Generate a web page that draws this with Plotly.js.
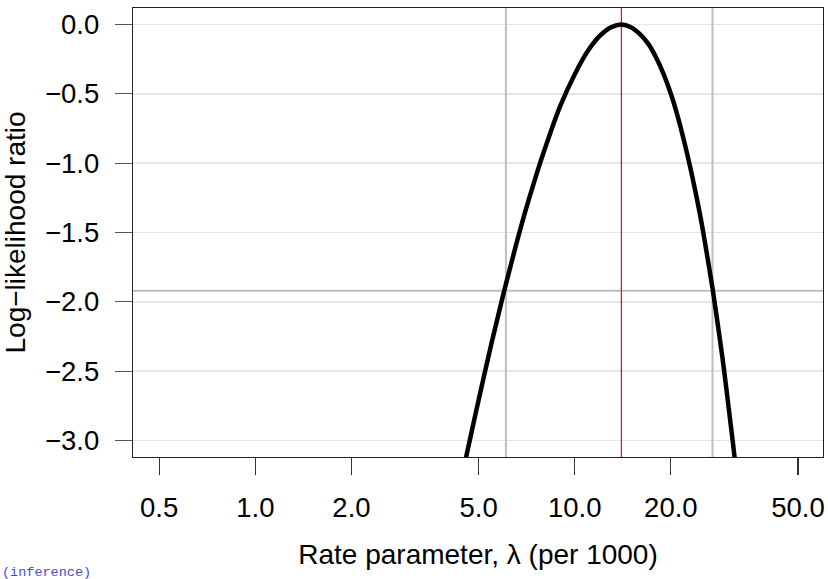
<!DOCTYPE html>
<html>
<head>
<meta charset="utf-8">
<script src="https://cdn.plot.ly/plotly-3.0.1.min.js"></script>
<style>body{margin:0;padding:0;background:#fff}#chart{width:828px;height:579px}</style>
</head>
<body>
<div id="chart"></div>
<script>
// Rate parameter lambda (per 1000) and log-likelihood ratio
const lambda = [4.2, 4.4, 4.6, 5.0, 5.5, 6.0, 6.5, 7.0, 7.5, 8.0, 9.0, 10.0, 11.0, 12.0, 13.0, 14.0, 15.0, 16.0, 17.0, 18.0, 19.0, 20.0, 21.0, 22.0, 23.0, 24.0, 25.0, 26.0, 27.0, 28.0, 29.0, 30.0, 31.0, 32.0, 33.0];
const llr    = [-3.53, -3.30, -3.09, -2.71, -2.29, -1.93, -1.62, -1.35, -1.12, -0.92, -0.59, -0.36, -0.19, -0.08, -0.02, 0.00, -0.02, -0.07, -0.14, -0.24, -0.36, -0.50, -0.66, -0.84, -1.03, -1.23, -1.44, -1.67, -1.90, -2.15, -2.40, -2.67, -2.94, -3.21, -3.50];
const mle = 14.0;
const ciBounds = [6.09, 27.0];
const cutoff = -1.92;
const xTickVals = [0.5, 1, 2, 5, 10, 20, 50];
const xTickText = ["0.5", "1.0", "2.0", "5.0", "10.0", "20.0", "50.0"];
const yTickVals = [0, -0.5, -1, -1.5, -2, -2.5, -3];
const yTickText = ["0.0", "\u22120.5", "\u22121.0", "\u22121.5", "\u22122.0", "\u22122.5", "\u22123.0"];

const FONT = "Liberation Sans, Arial, Helvetica, sans-serif";
const traces = [];
ciBounds.forEach(v => traces.push({x: [v, v], y: [-5, 1], mode: 'lines', line: {color: '#bebebe', width: 2}, hoverinfo: 'skip', showlegend: false}));
traces.push({x: [0.1, 200], y: [cutoff, cutoff], mode: 'lines', line: {color: '#bebebe', width: 2}, hoverinfo: 'skip', showlegend: false});
traces.push({x: [mle, mle], y: [-5, 1], mode: 'lines', line: {color: '#ff0000', width: 1.2}, hoverinfo: 'skip', showlegend: false});
traces.push({x: lambda, y: llr, mode: 'lines', line: {color: '#000', width: 4.5, shape: 'spline'}, hoverinfo: 'skip', showlegend: false});

const layout = {
  width: 828, height: 579, autosize: false,
  margin: {l: 133, r: 5, t: 8, b: 122, pad: 0},
  paper_bgcolor: '#fff', plot_bgcolor: '#fff',
  font: {family: FONT, size: 27.5, color: '#000'},
  xaxis: {
    type: 'log', range: [Math.log10(0.414), Math.log10(59.9)],
    tickvals: xTickVals, ticktext: xTickText,
    ticks: 'outside', ticklen: 17, tickwidth: 1.3, tickcolor: '#333',
    ticklabelstandoff: 9,
    showgrid: false, zeroline: false,
    showline: true, mirror: true, linecolor: '#222', linewidth: 1.3,
    title: {text: 'Rate parameter, \u03bb (per 1000)', font: {size: 28}, standoff: 22}
  },
  yaxis: {
    range: [-3.119, 0.119],
    tickvals: yTickVals, ticktext: yTickText,
    ticks: 'outside', ticklen: 17, tickwidth: 1.3, tickcolor: '#555',
    ticklabelstandoff: 10,
    showgrid: true, gridcolor: '#e5e5e5', gridwidth: 1.5,
    zeroline: false,
    showline: true, mirror: true, linecolor: '#222', linewidth: 1.3,
    title: {text: 'Log\u2212likelihood ratio', font: {size: 28}, standoff: 12}
  },
  annotations: [{
    text: '(inference)', xref: 'paper', yref: 'paper', x: -133/690, y: -125/449,
    xanchor: 'left', yanchor: 'bottom', showarrow: false,
    font: {family: 'Liberation Mono, DejaVu Sans Mono, monospace', size: 13.5, color: '#4a4acc'}
  }]
};
Plotly.newPlot('chart', traces, layout, {displayModeBar: false, staticPlot: true});
</script>
</body>
</html>
